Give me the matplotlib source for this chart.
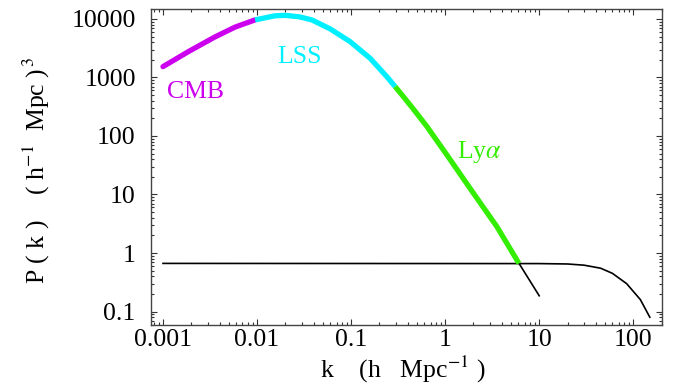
import matplotlib
matplotlib.use("Agg")
import matplotlib.pyplot as plt
from matplotlib.ticker import LogLocator, NullFormatter, FixedLocator, FixedFormatter

plt.rcParams['font.family'] = ['Liberation Serif', 'DejaVu Serif']
plt.rcParams['mathtext.fontset'] = 'stix'

# power spectrum, split by probe
k_cmb = [0.00100, 0.00186, 0.00355, 0.00583, 0.00952]
p_cmb = [1530, 2760, 4900, 7240, 9620]

k_lss = [0.00952, 0.0155, 0.0199, 0.0282, 0.0382, 0.0598, 0.0976, 0.159, 0.240, 0.294]
p_lss = [9620, 11300, 11500, 10850, 9620, 6760, 4090, 2130, 1030, 697]

k_lya = [0.294, 0.360, 0.460, 0.638, 1.13, 2.00, 3.55, 5.79, 6.1]
p_lya = [697, 469, 287, 146, 39.5, 10.5, 2.82, 0.76, 0.665]

k_tail = [6.1, 10.0]
p_tail = [0.665, 0.186]

# noise curve
k_noise = [0.001, 10, 20, 30, 45, 60, 85, 119, 150]
p_noise = [0.665, 0.66, 0.65, 0.62, 0.55, 0.45, 0.30, 0.16, 0.08]

xticks = [0.001, 0.01, 0.1, 1, 10, 100]
xtick_labels = ['0.001', '0.01', '0.1', '1', '10', '100']
yticks = [0.1, 1, 10, 100, 1000, 10000]
ytick_labels = ['0.1', '1', '10', '100', '1000', '10000']

c_cmb = '#cc00ee'
c_lss = '#00f0ff'
c_lya = '#33ee00'
fs = 18.5

fig = plt.figure(figsize=(6.8, 3.87), dpi=100)
ax = fig.add_axes([0.222, 0.160, 0.752, 0.817])

ax.plot(k_noise, p_noise, color='black', lw=1.2)
ax.plot(k_tail, p_tail, color='black', lw=1.2)
ax.plot(k_cmb, p_cmb, color=c_cmb, lw=3.8, solid_capstyle='round', solid_joinstyle='round')
ax.plot(k_lss, p_lss, color=c_lss, lw=3.8, solid_capstyle='butt', solid_joinstyle='round')
ax.plot(k_lya, p_lya, color=c_lya, lw=3.8, solid_capstyle='butt', solid_joinstyle='round')

ax.set_xscale('log')
ax.set_yscale('log')
ax.set_xlim(10 ** -3.128, 10 ** 2.309)
ax.set_ylim(10 ** -1.231, 10 ** 4.171)

ax.xaxis.set_major_locator(FixedLocator(xticks))
ax.xaxis.set_major_formatter(FixedFormatter(xtick_labels))
ax.yaxis.set_major_locator(FixedLocator(yticks))
ax.yaxis.set_major_formatter(FixedFormatter(ytick_labels))
ax.xaxis.set_minor_locator(LogLocator(base=10, subs=range(2, 10), numticks=20))
ax.yaxis.set_minor_locator(LogLocator(base=10, subs=range(2, 10), numticks=20))
ax.xaxis.set_minor_formatter(NullFormatter())
ax.yaxis.set_minor_formatter(NullFormatter())

ax.tick_params(which='both', direction='in', top=True, right=True, width=0.8, colors='#333333',
               labelcolor='black', labelsize=fs)
ax.tick_params(which='major', length=4.5)
ax.tick_params(which='minor', length=2.2)
ax.tick_params(axis='x', pad=3)
ax.tick_params(axis='y', pad=11)
for s in ax.spines.values():
    s.set_color('#444444')
    s.set_linewidth(1.0)

ax.text(0.00224, 565, 'CMB', color=c_cmb, fontsize=fs, ha='center', va='center')
ax.text(0.0286, 2240, 'LSS', color=c_lss, fontsize=fs, ha='center', va='center')
ax.text(2.30, 53, r'Ly$\alpha$', color=c_lya, fontsize=fs, ha='center', va='center')

ax.set_xlabel(r'k    (h   Mpc$^{-1}$ )', fontsize=fs)
ax.set_ylabel(r'P ( k )    ( h$^{-1}$  Mpc )$^{\,3}$', fontsize=fs)
ax.xaxis.set_label_coords(0.493, -0.142)
ax.yaxis.set_label_coords(-0.223, 0.49)
ax.xaxis.label.set_va('center')
ax.yaxis.label.set_va('center')

fig.savefig('out.png', dpi=100)
